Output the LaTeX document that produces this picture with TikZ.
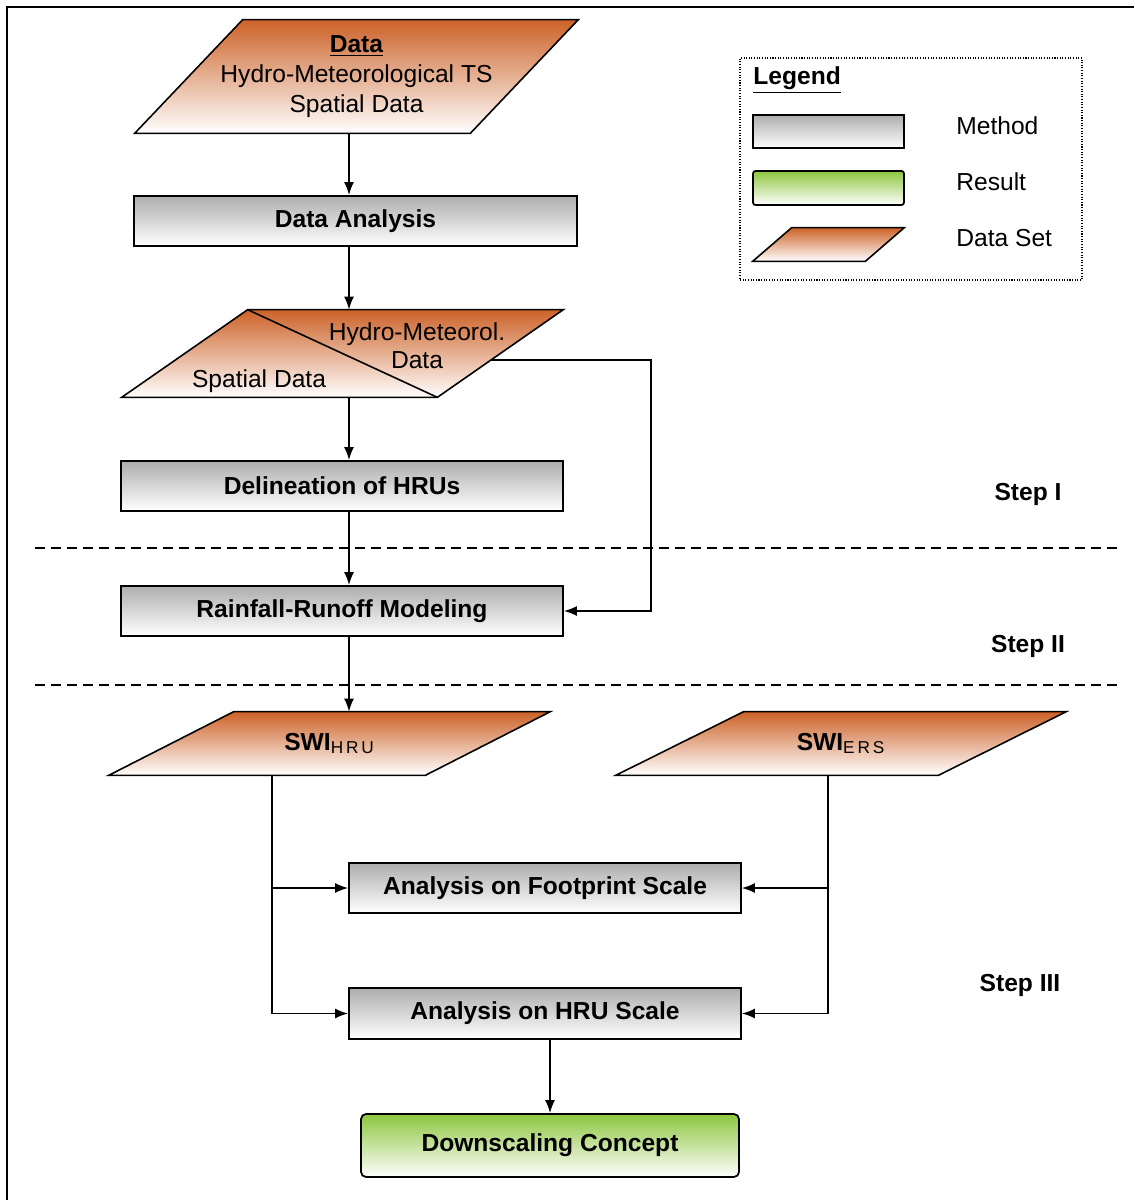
\documentclass[tikz,border=0pt]{standalone}
\usepackage{fontspec}
\setmainfont{Liberation Sans}
\usetikzlibrary{calc, positioning, arrows.meta, backgrounds}

\definecolor{dsorange}{RGB}{204,98,40}
\definecolor{resgreen}{RGB}{141,198,63}

% slanted data set outline behind a named node
\newcommand{\dsshape}[2]{%
  \shade[dsfill] ([xshift=#2]#1.north west) -- (#1.north east)
    -- ([xshift=-#2]#1.south east) -- (#1.south west) -- cycle;}

\tikzset{
  boldtxt/.style={font=\fontsize{14}{17}\selectfont\bfseries},
  method/.style={draw, line width=1pt, top color=black!32, bottom color=white, inner sep=0pt, boldtxt},
  result/.style={method, rounded corners=0.1cm, top color=resgreen},
  dataset/.style={inner sep=0pt, align=center},
  dsfill/.style={draw, line width=0.9pt, top color=dsorange, bottom color=white},
  arr/.style={line width=1pt, -{Latex[length=0.26cm,width=0.2cm]}},
  sepline/.style={line width=1pt, dash pattern=on 0.2cm off 0.12cm},
  steplabel/.style={boldtxt},
}

\begin{document}
\begin{tikzpicture}[x=0.02cm, y=-0.02cm, font=\fontsize{14}{17}\selectfont]
  \useasboundingbox (0,0) rectangle (1134,1200);
  \draw[line width=1.7pt] (7,1200) -- (7,7) -- (1134,7);

  % main column
  \node[dataset, minimum width=8.86cm, minimum height=2.26cm] (data) at (356.5,76.5)
     {\underline{\textbf{Data}}\\Hydro-Meteorological TS\\Spatial Data};
  \node[method, minimum width=8.86cm, minimum height=1cm] (da) at (355.5,221) {Data Analysis};
  \node[dataset, minimum width=8.82cm, minimum height=1.74cm] (split) at (342.5,353.5) {};
  \node[align=center, font=\fontsize{14}{16}\selectfont] (hmtext) at (417,346) {Hydro-Meteorol.\\Data};
  \node (sptext) at (259,381) {Spatial Data};
  \node[method, minimum width=8.84cm, minimum height=1cm] (dh) at (342,486) {Delineation of HRUs};
  \node[method, minimum width=8.84cm, minimum height=1cm] (rr) at (342,611) {Rainfall-Runoff Modeling};
  \node[dataset, minimum width=8.82cm, minimum height=1.26cm] (swih) at (329.5,743.5)
     {\textbf{SWI}\textsubscript{H\,R\,U}};
  \node[dataset, minimum width=9cm, minimum height=1.26cm] (swie) at (841,743.5)
     {\textbf{SWI}\textsubscript{E\,R\,S}};
  \node[method, minimum width=7.84cm, minimum height=1cm] (fp) at (545,888) {Analysis on Footprint Scale};
  \node[method, minimum width=7.84cm, minimum height=1.02cm] (hs) at (545,1013.5) {Analysis on HRU Scale};
  \node[result, minimum width=7.56cm, minimum height=1.26cm] (dc) at (550,1145.5) {Downscaling Concept};

  \node[steplabel] (s1) at (1028,494) {Step I};
  \node[steplabel] (s2) at (1028,646) {Step II};
  \node[steplabel] (s3) at (1020,985) {Step III};

  % legend
  \node[draw, line width=0.7pt, dash pattern=on 0.6pt off 0.9pt, minimum width=6.84cm, minimum height=4.44cm] (legend) at (911,169) {};
  \node[boldtxt, anchor=west, inner sep=0pt] (lgtitle) at (753,80) {\underline{Legend}};
  \node[method, minimum width=3.02cm, minimum height=0.66cm] (lgmethod) at (828.5,131.5) {};
  \node[result, minimum width=3.02cm, minimum height=0.68cm, rounded corners=0.05cm] (lgresult) at (828.5,188) {};
  \node[dataset, minimum width=3.02cm, minimum height=0.66cm] (lgdata) at (828.5,244.5) {};
  \node[anchor=west, inner sep=0pt] (lgmethodtxt) at (956,126) {Method};
  \node[anchor=west, inner sep=0pt] (lgresulttxt) at (956,182) {Result};
  \node[anchor=west, inner sep=0pt] (lgdatatxt) at (956,238) {Data Set};

  \begin{scope}[on background layer]
    \dsshape{data}{2.16cm}
    \dsshape{split}{2.52cm}
    \dsshape{swih}{2.5cm}
    \dsshape{swie}{2.56cm}
    \dsshape{lgdata}{0.78cm}
    \draw[line width=0.9pt] ([xshift=2.52cm]split.north west) -- ([xshift=-2.52cm]split.south east);
  \end{scope}

  % step separators
  \draw[sepline] (35,548) -- (1118,548);
  \draw[sepline] (35,685) -- (1118,685);

  % connectors
  \coordinate (col) at (349,0);
  \coordinate (lcol) at (272,0);
  \coordinate (rcol) at (828,0);
  \coordinate (hmout) at ($(split.north east)!0.575!([xshift=-2.52cm]split.south east)$);
  \coordinate (hmturn) at (651,360);
  \draw[arr] (data.south -| col) -- (da.north -| col);
  \draw[arr] (da.south -| col) -- (split.north -| col);
  \draw[arr] (split.south -| col) -- (dh.north -| col);
  \draw[arr] (dh.south -| col) -- (rr.north -| col);
  \draw[arr] (rr.south -| col) -- (swih.north -| col);
  \draw[arr] (hmout) -- (hmturn) |- (rr.east);
  \draw[arr] (swih.south -| lcol) |- (fp.west);
  \draw[arr] (swih.south -| lcol) |- (hs.west);
  \draw[arr] (swie.south -| rcol) |- (fp.east);
  \draw[arr] (swie.south -| rcol) |- (hs.east);
  \draw[arr] (dc.north |- hs.south) -- (dc.north);
\end{tikzpicture}
\end{document}
